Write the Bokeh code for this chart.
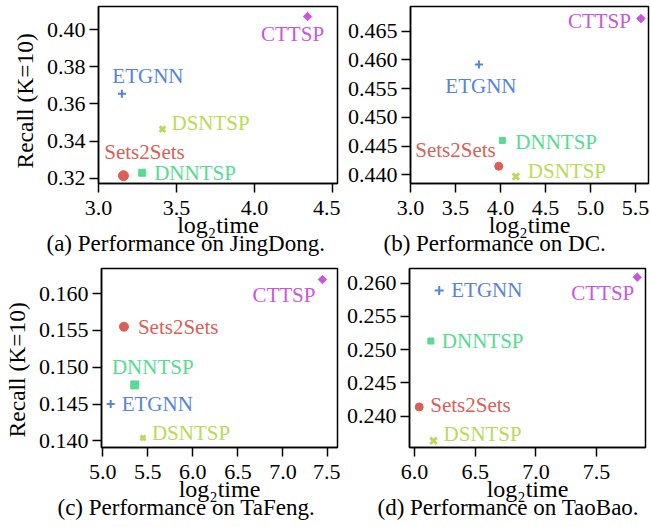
import math
from bokeh.plotting import figure
from bokeh.layouts import row, column
from bokeh.models import FixedTicker, Range1d, PrintfTickFormatter, Title
from bokeh.core.properties import value
from bokeh.embed import file_html
from bokeh.resources import INLINE

FONT = "'Liberation Serif', 'Times New Roman', serif"

# ---------------- data ----------------
models = ["Sets2Sets", "DSNTSP", "DNNTSP", "ETGNN", "CTTSP"]
colors = ["#db5f57", "#b9db57", "#57db94", "#5784db", "#c957db"]

jd_time = [3.16, 3.41, 3.28, 3.15, 4.34]
jd_recall = [0.3213, 0.3464, 0.3229, 0.3655, 0.4072]
dc_time = [3.98, 4.17, 4.02, 3.76, 5.56]
dc_recall = [0.4415, 0.4397, 0.4460, 0.4592, 0.4672]
tf_time = [5.235, 5.446, 5.355, 5.088, 7.439]
tf_recall = [0.1555, 0.1404, 0.1476, 0.1450, 0.1619]
tb_time = [6.039, 6.157, 6.135, 6.204, 7.835]
tb_recall = [0.2414, 0.2363, 0.2513, 0.2589, 0.2609]

jd_xticks = [3.0, 3.5, 4.0, 4.5]
jd_yticks = [0.32, 0.34, 0.36, 0.38, 0.40]
dc_xticks = [3.0, 3.5, 4.0, 4.5, 5.0, 5.5]
dc_yticks = [0.440, 0.445, 0.450, 0.455, 0.460, 0.465]
tf_xticks = [5.0, 5.5, 6.0, 6.5, 7.0, 7.5]
tf_yticks = [0.140, 0.145, 0.150, 0.155, 0.160]
tb_xticks = [6.0, 6.5, 7.0, 7.5]
tb_yticks = [0.240, 0.245, 0.250, 0.255, 0.260]

captions = ["(a) Performance on JingDong.", "(b) Performance on DC.",
            "(c) Performance on TaFeng.", "(d) Performance on TaoBao."]
x_label = "log\u2082time"
y_label = "Recall (K=10)"

# ---------------- styles ----------------
marker_types = ["circle", "x", "square", "cross", "square"]
marker_angles = [0, 0, 0, 0, math.pi / 4]
marker_lw = [1, 3, 1, 2, 1]


def make_panel(xs, ys, xticks, yticks, yfmt, xr, yr, fig, sizes, lab_cfg,
               caption, cap_offset, ylab_pad=None):
    w, h, bl, br, bt, bb = fig
    p = figure(width=w, height=h, output_backend="svg", toolbar_location=None,
               x_range=Range1d(*xr), y_range=Range1d(*yr),
               min_border_left=bl, min_border_right=br,
               min_border_top=bt, min_border_bottom=bb)
    p.grid.visible = False
    p.outline_line_color = "black"
    p.outline_line_width = 1.5
    p.outline_line_alpha = 1
    p.background_fill_color = "white"
    p.border_fill_color = "white"
    for ax in (p.xaxis[0], p.yaxis[0]):
        ax.axis_line_width = 1.5
        ax.axis_line_color = "black"
        ax.major_tick_line_width = 1.5
        ax.major_tick_line_color = "black"
        ax.major_tick_out = 9
        ax.major_tick_in = 0
        ax.minor_tick_line_color = None
        ax.major_label_text_font = FONT
        ax.major_label_text_font_style = "normal"
        ax.major_label_text_font_size = "22px"
        ax.major_label_text_color = "black"
        ax.axis_label_text_font = FONT
        ax.axis_label_text_font_style = "normal"
        ax.axis_label_text_color = "black"
    p.xaxis[0].ticker = FixedTicker(ticks=xticks)
    p.yaxis[0].ticker = FixedTicker(ticks=yticks)
    p.xaxis[0].formatter = PrintfTickFormatter(format="%.1f")
    p.yaxis[0].formatter = PrintfTickFormatter(format=yfmt)
    p.xaxis[0].major_label_standoff = 8
    p.yaxis[0].major_label_standoff = 4
    p.xaxis[0].axis_label = x_label
    p.xaxis[0].axis_label_text_font_size = "24px"
    p.xaxis[0].axis_label_standoff = -6
    if ylab_pad is not None:
        p.yaxis[0].axis_label = y_label + "\u00a0" * ylab_pad
        p.yaxis[0].axis_label_text_font_size = "23.5px"
        p.yaxis[0].axis_label_standoff = 6

    for i in range(len(models)):
        p.scatter([xs[i]], [ys[i]], marker=marker_types[i], size=sizes[i],
                  angle=marker_angles[i], fill_color=colors[i],
                  line_color=colors[i], line_width=marker_lw[i])
        align, dx, dy = lab_cfg[i]
        p.text([xs[i]], [ys[i]], text=[models[i]], x_offset=dx, y_offset=dy,
               text_align=align, text_baseline="middle",
               text_font=value(FONT), text_font_style="normal",
               text_font_size="21px", text_color=colors[i])

    p.add_layout(Title(text=caption, align="left", offset=cap_offset,
                       text_font=FONT, text_font_size="23px",
                       text_font_style="normal", text_color="black",
                       standoff=-31), "below")
    return p


pa = make_panel(jd_time, jd_recall, jd_xticks, jd_yticks, "%.2f",
                (3.0, 4.532), (0.3171, 0.4126),
                (340, 260, 98, 3, 6, 77),
                [10, 8, 7, 8, 6],
                [("center", 21, -24), ("left", 9, -6), ("left", 12, 0),
                 ("center", 26, -18), ("center", -15, 17)],
                captions[0], -52, ylab_pad=2)

pb = make_panel(dc_time, dc_recall, dc_xticks, dc_yticks, "%.3f",
                (3.0, 5.644), (0.4385, 0.4693),
                (310, 260, 70, 2, 6, 77),
                [8, 9, 6, 8, 6],
                [("right", -3, -16), ("left", 12, -6), ("left", 13, 2),
                 ("center", 2, 21), ("right", -10, 2)],
                captions[1], -27)

pc = make_panel(tf_time, tf_recall, tf_xticks, tf_yticks, "%.3f",
                (4.986, 7.606), (0.1391, 0.1634),
                (340, 267, 98, 3, 8, 80),
                [9, 7, 8, 8, 6],
                [("left", 14, 0), ("left", 9, -5), ("center", 18, -18),
                 ("left", 11, 0), ("right", -7, 15)],
                captions[2], -44, ylab_pad=4)

pd_ = make_panel(tb_time, tb_recall, tb_xticks, tb_yticks, "%.3f",
                 (5.959, 7.903), (0.2353, 0.2622),
                 (310, 267, 69, 5, 8, 80),
                 [8, 9, 6, 9, 6],
                 [("left", 11, -2), ("left", 10, -7), ("left", 11, 0),
                  ("left", 12, 0), ("right", -3, 16)],
                 captions[3], -32)

layout = column(row(pa, pb, spacing=0), row(pc, pd_, spacing=0), spacing=0)
open("out.html", "w").write(file_html(layout, INLINE))
